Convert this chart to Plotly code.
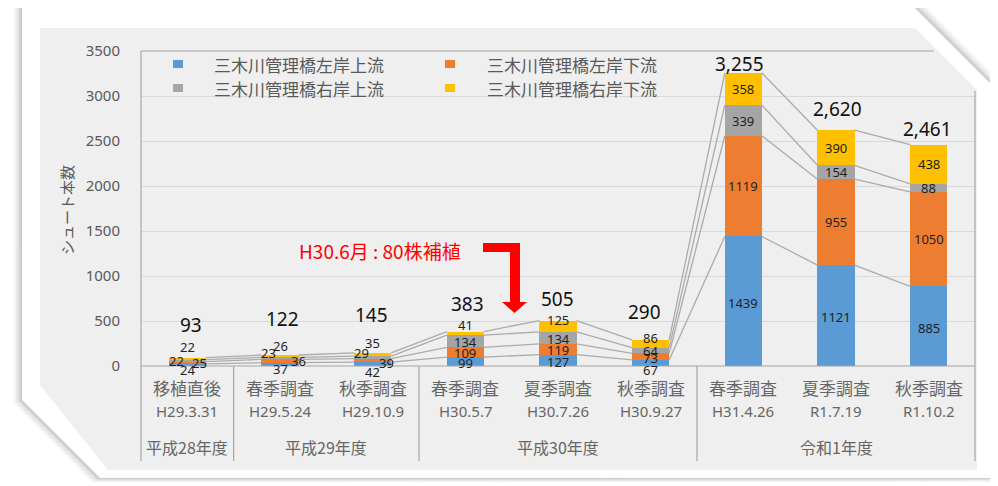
import plotly.graph_objects as go

W, H = 998, 486

# ---------------- data ----------------
series_names = ["三木川管理橋左岸上流", "三木川管理橋左岸下流", "三木川管理橋右岸上流", "三木川管理橋右岸下流"]
left_up = [24, 37, 42, 99, 127, 67, 1439, 1121, 885]
left_down = [25, 36, 39, 109, 119, 73, 1119, 955, 1050]
right_up = [22, 23, 29, 134, 134, 64, 339, 154, 88]
right_down = [22, 26, 35, 41, 125, 86, 358, 390, 438]
survey_names = ["移植直後", "春季調査", "秋季調査", "春季調査", "夏季調査", "秋季調査", "春季調査", "夏季調査", "秋季調査"]
survey_dates = ["H29.3.31", "H29.5.24", "H29.10.9", "H30.5.7", "H30.7.26", "H30.9.27", "H31.4.26", "R1.7.19", "R1.10.2"]
fiscal_years = ["平成28年度", "平成29年度", "平成30年度", "令和1年度"]
fiscal_span = [(0, 0), (1, 2), (3, 5), (6, 8)]
y_ticks = [0, 500, 1000, 1500, 2000, 2500, 3000, 3500]
y_title = "シュート本数"
note_text = "H30.6月 : 80株補植"

series = [left_up, left_down, right_up, right_down]
colors = ["#5B9BD5", "#ED7D31", "#A5A5A5", "#FFC000"]
n = len(survey_names)
totals = [sum(s[i] for s in series) for i in range(n)]

# ---------------- geometry helpers (page pixels -> paper) ----------------
OFF = 8  # page body margin offset
PX_L, PX_R, PY_T, PY_B = 141, 975, 51, 366


def px(x):
    return (x - OFF) / W


def py(y):
    return 1 - (y - OFF) / H


BAR_W = 0.4
CJK = "Noto Sans CJK JP"
TXT = "#595959"
CAT_TXT = "#666666"

fig = go.Figure()

# stacked bars
for s, vals in enumerate(series):
    fig.add_trace(go.Bar(
        x=list(range(n)), y=vals, width=BAR_W, name=series_names[s],
        marker=dict(color=colors[s], line=dict(width=0)),
        showlegend=False, hoverinfo="skip"))

# series lines connecting segment tops
cum = []
run = [0] * n
for vals in series:
    run = [run[i] + vals[i] for i in range(n)]
    cum.append(run[:])
for s in range(len(series)):
    xs, ys = [], []
    for i in range(n - 1):
        xs += [i + BAR_W / 2, i + 1 - BAR_W / 2, None]
        ys += [cum[s][i], cum[s][i + 1], None]
    fig.add_trace(go.Scatter(x=xs, y=ys, mode="lines",
                             line=dict(color="#ABABAB", width=1.3),
                             showlegend=False, hoverinfo="skip"))

annotations = []

# segment labels (pixel offsets only used for placement)
seg_off = [
    [(0, -5), (0, -5), (0, -8), (0, -1), (0, -2), (0, -7), (0, -2), (0, -1), (0, -2)],
    [(12, 0), (18, 0), (14, -3), (0, -1), (0, -1), (0, -1), (0, 0), (0, 0), (0, 0)],
    [(-11, 0), (-12, 5), (-11, 4), (0, -1), (0, -1), (0, 0), (0, 0), (0, 0), (0, 0)],
    [(0, 12), (0, 10), (0, 12), (0, 8), (0, 6), (0, 6), (0, 0), (0, 0), (0, 0)],
]
for s, vals in enumerate(series):
    for i in range(n):
        base = cum[s][i] - vals[i]
        dx, dy = seg_off[s][i]
        annotations.append(dict(
            x=i, y=base + vals[i] / 2, xref="x", yref="y", text=str(vals[i]),
            showarrow=False, xshift=dx, yshift=dy,
            font=dict(family="Noto Sans", size=13, color="#1F1F1F")))

# total labels
tot_dy = [33, 36, 38, 28, 22, 28, 9, 21, 16]
tot_dx = [4, 2, -1, 2, -1, -6, -4, 1, -1]
for i in range(n):
    annotations.append(dict(
        x=i, y=totals[i], xref="x", yref="y", text=f"{totals[i]:,}",
        showarrow=False, xshift=tot_dx[i], yshift=tot_dy[i], yanchor="middle",
        font=dict(family="Noto Sans", size=19, color="#111111")))

# category labels (multi-level)
for i in range(n):
    annotations.append(dict(x=i, y=py(387), xref="x", yref="paper", text=survey_names[i],
                            showarrow=False, xanchor="center", yanchor="middle",
                            font=dict(family=CJK, size=17, color=CAT_TXT)))
    annotations.append(dict(x=i, y=py(411), xref="x", yref="paper", text=survey_dates[i],
                            showarrow=False, xanchor="center", yanchor="middle",
                            font=dict(family="Noto Sans", size=15, color=CAT_TXT)))
for g, (a, b) in zip(fiscal_years, fiscal_span):
    annotations.append(dict(x=(a + b) / 2, y=py(447), xref="x", yref="paper", text=g,
                            showarrow=False, xanchor="center", yanchor="middle",
                            font=dict(family=CJK, size=16, color=CAT_TXT)))

# y-axis title
annotations.append(dict(x=px(66), y=py(210), xref="paper", yref="paper", text=y_title,
                        textangle=-90, showarrow=False, xanchor="center", yanchor="middle",
                        font=dict(family=CJK, size=15, color=TXT)))

shapes = []

# ---- background card with shadow ----
card = [(22, 8), (915, 8), (993, 86), (993, 478), (100, 478), (22, 400)]


def grow(poly, d):
    cx = sum(p[0] for p in poly) / len(poly)
    cy = sum(p[1] for p in poly) / len(poly)
    out = []
    for x, y in poly:
        vx, vy = x - cx, y - cy
        L = (vx * vx + vy * vy) ** 0.5
        out.append((x + vx / L * d, y + vy / L * d))
    return out


def path_of(poly):
    pts = [f"{px(x):.5f},{py(y):.5f}" for x, y in poly]
    return "M " + " L ".join(pts) + " Z"


for d, c in [(9, "#F4F4F4"), (6, "#E6E6E6"), (3.5, "#D6D6D6"), (1.5, "#C8C8C8")]:
    shapes.append(dict(type="path", xref="paper", yref="paper", path=path_of(grow(card, d)),
                       fillcolor=c, line=dict(width=0), layer="below"))
shapes.append(dict(type="path", xref="paper", yref="paper", path=path_of(card),
                   fillcolor="#FFFFFF", line=dict(width=0), layer="below"))
inner = [(40, 28), (915, 28), (977, 90), (977, 470), (108, 470), (40, 385)]
shapes.append(dict(type="path", xref="paper", yref="paper", path=path_of(inner),
                   fillcolor="#EFEFEF", line=dict(width=0), layer="below"))

# plot borders / axis lines / dividers
LC = "#A6A6A6"


def seg(x0, y0, x1, y1, color=LC, w=1.2):
    shapes.append(dict(type="line", xref="paper", yref="paper",
                       x0=px(x0), y0=py(y0), x1=px(x1), y1=py(y1),
                       line=dict(color=color, width=w), layer="above"))


seg(PX_L, PY_T, 934, PY_T)                 # top border
seg(PX_R, 91, PX_R, 461)                   # right border + divider
seg(PX_L, PY_T, PX_L, 461)                 # left axis + divider
seg(PX_L, PY_B, PX_R, PY_B)                # category axis
cat_w = (PX_R - PX_L) / n
for a, b in fiscal_span[:-1]:
    xb = PX_L + (b + 1) * cat_w
    seg(xb, PY_B, xb, 461)

# legend (manual)
leg_pos = [(173, 64, 212), (445, 64, 485), (173, 88, 212), (445, 88, 485)]
for s in range(4):
    x0, yc, xt = leg_pos[s]
    shapes.append(dict(type="rect", xref="paper", yref="paper",
                       x0=px(x0), x1=px(x0 + 10), y0=py(yc - 4), y1=py(yc + 4),
                       fillcolor=colors[s], line=dict(width=0), layer="above"))
    annotations.append(dict(x=px(xt), y=py(yc), xref="paper", yref="paper",
                            text=series_names[s], showarrow=False,
                            xanchor="left", yanchor="middle",
                            font=dict(family=CJK, size=17, color=TXT)))

# red note and arrow
annotations.append(dict(x=px(297), y=py(250), xref="paper", yref="paper", text=note_text,
                        showarrow=False, xanchor="left", yanchor="middle",
                        font=dict(family=CJK, size=19, color="#FF0000")))
arrow = [(483, 243), (520, 243), (520, 302), (527, 302), (514.5, 313),
         (502, 302), (510, 302), (510, 252), (483, 252)]
shapes.append(dict(type="path", xref="paper", yref="paper", path=path_of(arrow),
                   fillcolor="#FF0000", line=dict(width=0), layer="above"))

fig.update_layout(
    width=W, height=H,
    margin=dict(l=0, r=0, t=0, b=0, pad=0, autoexpand=False),
    paper_bgcolor="#FFFFFF", plot_bgcolor="rgba(0,0,0,0)",
    barmode="stack", bargap=0.6,
    font=dict(family=CJK, color=TXT),
    xaxis=dict(domain=[px(PX_L), px(PX_R)], range=[-0.5, n - 0.5],
               showticklabels=False, showgrid=False, zeroline=False, showline=False,
               ticks="", fixedrange=True, automargin=False),
    yaxis=dict(domain=[py(PY_B), py(PY_T)], range=[0, 3500],
               tickvals=y_ticks, ticktext=[str(v) for v in y_ticks],
               tickfont=dict(family="Noto Sans", size=15, color=TXT),
               ticklabelstandoff=20, automargin=False,
               showgrid=True, gridcolor="#D9D9D9", gridwidth=1,
               zeroline=False, showline=False, ticks="", fixedrange=True),
    annotations=annotations,
    shapes=shapes,
    showlegend=False,
)

fig.write_html("out.html")
